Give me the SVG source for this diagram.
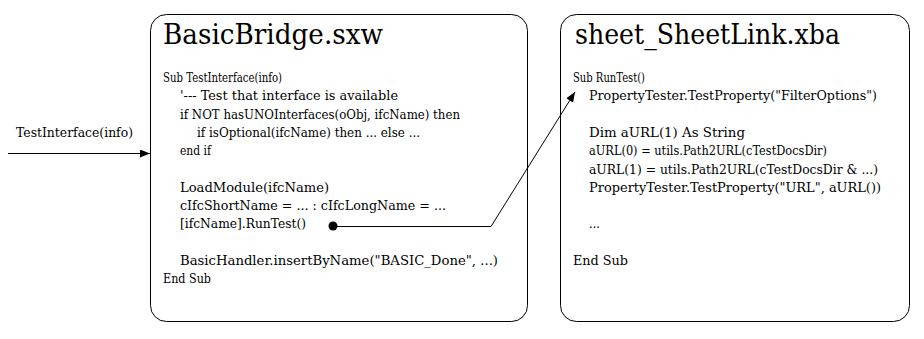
<svg xmlns="http://www.w3.org/2000/svg" width="924" height="339" viewBox="0 0 924 339">
<style>
  .box { fill: #ffffff; stroke: #000000; stroke-width: 1; }
  .title { font-family: 'DejaVu Serif', 'Liberation Serif', 'Noto Serif', serif; font-size: 28px; fill: #000; }
  .code { font-family: 'DejaVu Serif', 'Liberation Serif', 'Noto Serif', serif; font-size: 12px; fill: #000; }
  .conn { fill: none; stroke: #000; stroke-width: 1; }
</style>
<defs>
  <marker id="arrow" viewBox="0 0 10 8" refX="10" refY="4" markerWidth="10" markerHeight="8" markerUnits="userSpaceOnUse" orient="auto">
    <path d="M0,0 L10,4 L0,8 z" fill="#000"/>
  </marker>
</defs>
<rect width="924" height="339" fill="#ffffff"/>
<g id="node-basicbridge">
  <rect class="box" x="150.5" y="14.5" width="377" height="307" rx="16" ry="16"/>
  <text class="title" x="163" y="44" textLength="220" lengthAdjust="spacingAndGlyphs">BasicBridge.sxw</text>
  <text class="code" x="163" y="82" textLength="119" lengthAdjust="spacingAndGlyphs">Sub TestInterface(info)</text>
  <text class="code" x="180" y="100" textLength="218" lengthAdjust="spacingAndGlyphs">'--- Test that interface is available</text>
  <text class="code" x="180" y="119" textLength="280" lengthAdjust="spacingAndGlyphs">if NOT hasUNOInterfaces(oObj, ifcName) then</text>
  <text class="code" x="197" y="137" textLength="223" lengthAdjust="spacingAndGlyphs">if isOptional(ifcName) then ... else ...</text>
  <text class="code" x="180" y="155" textLength="31" lengthAdjust="spacingAndGlyphs">end if</text>
  <text class="code" x="180" y="192" textLength="149" lengthAdjust="spacingAndGlyphs">LoadModule(ifcName)</text>
  <text class="code" x="180" y="210" textLength="266" lengthAdjust="spacingAndGlyphs">cIfcShortName = ... : cIfcLongName = ...</text>
  <text class="code" x="180" y="228" textLength="126" lengthAdjust="spacingAndGlyphs">[ifcName].RunTest()</text>
  <text class="code" x="180" y="265" textLength="318" lengthAdjust="spacingAndGlyphs">BasicHandler.insertByName("BASIC_Done", ...)</text>
  <text class="code" x="163" y="283" textLength="48" lengthAdjust="spacingAndGlyphs">End Sub</text>
</g>
<g id="node-sheetlink">
  <rect class="box" x="560.5" y="14.5" width="349" height="307" rx="16" ry="16"/>
  <text class="title" x="575" y="44" textLength="265" lengthAdjust="spacingAndGlyphs">sheet_SheetLink.xba</text>
  <text class="code" x="573" y="82" textLength="72" lengthAdjust="spacingAndGlyphs">Sub RunTest()</text>
  <text class="code" x="589" y="100" textLength="288" lengthAdjust="spacingAndGlyphs">PropertyTester.TestProperty("FilterOptions")</text>
  <text class="code" x="589" y="137" textLength="156" lengthAdjust="spacingAndGlyphs">Dim aURL(1) As String</text>
  <text class="code" x="589" y="155" textLength="238" lengthAdjust="spacingAndGlyphs">aURL(0) = utils.Path2URL(cTestDocsDir)</text>
  <text class="code" x="589" y="174" textLength="289" lengthAdjust="spacingAndGlyphs">aURL(1) = utils.Path2URL(cTestDocsDir &amp; ...)</text>
  <text class="code" x="589" y="192" textLength="292" lengthAdjust="spacingAndGlyphs">PropertyTester.TestProperty("URL", aURL())</text>
  <text class="code" x="589" y="228" textLength="11" lengthAdjust="spacingAndGlyphs">...</text>
  <text class="code" x="573" y="265" textLength="55" lengthAdjust="spacingAndGlyphs">End Sub</text>
</g>
<g id="connectors">
  <text class="code" x="16" y="137" textLength="117" lengthAdjust="spacingAndGlyphs">TestInterface(info)</text>
  <line class="conn" x1="8" y1="153.5" x2="150" y2="153.5" marker-end="url(#arrow)"/>
  <circle cx="333" cy="226" r="4.5" fill="#000"/>
  <polyline class="conn" points="333,226.5 491,226.5 575,92" marker-end="url(#arrow)"/>
</g>
</svg>
